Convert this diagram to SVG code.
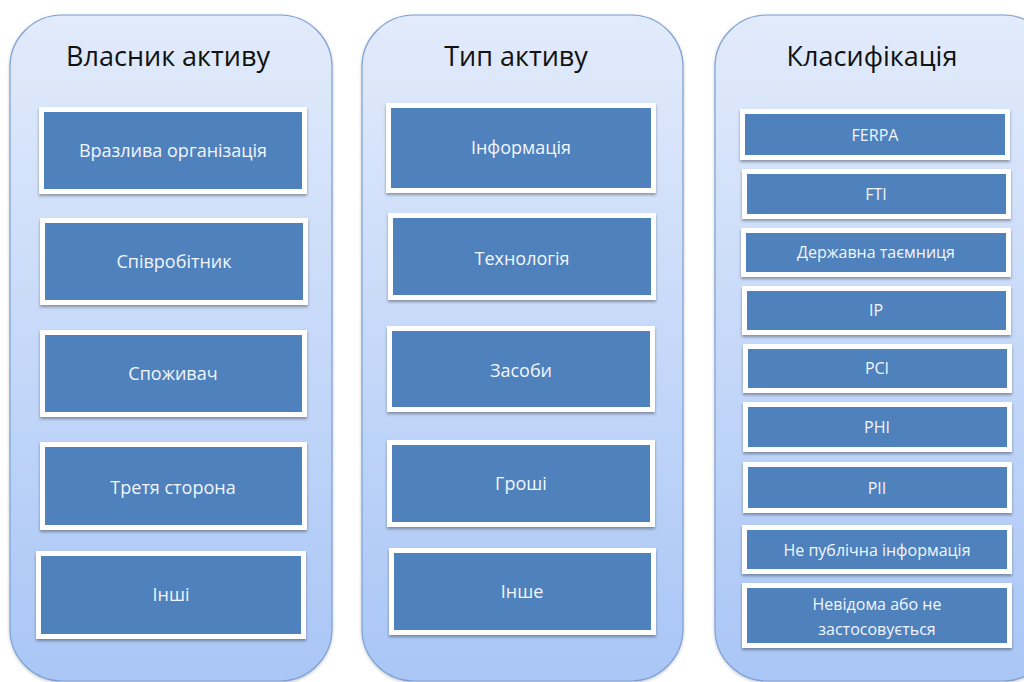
<svg xmlns="http://www.w3.org/2000/svg" width="1024" height="682" viewBox="0 0 1024 682">
  <defs>
    <linearGradient id="panelFill" x1="0" y1="0" x2="0" y2="1">
      <stop offset="0" stop-color="#e2ebfb"/>
      <stop offset="1" stop-color="#a9c6f6"/>
    </linearGradient>
    <filter id="boxShadow" x="-5%" y="-10%" width="110%" height="130%">
      <feDropShadow dx="0" dy="2" stdDeviation="1.5" flood-color="#000" flood-opacity="0.35"/>
    </filter>
    <filter id="panelShadow" x="-5%" y="-5%" width="110%" height="110%">
      <feDropShadow dx="0" dy="1" stdDeviation="1.5" flood-color="#000" flood-opacity="0.25"/>
    </filter>
  </defs>
  <style>
    .panel { fill: url(#panelFill); stroke: #7ba0d4; stroke-width: 1.2; filter: url(#panelShadow); }
    .box { fill: #4f81bd; stroke: #ffffff; stroke-width: 5; filter: url(#boxShadow); }
    .title { font-family: "Open Sans", "Liberation Sans", sans-serif; font-size: 27px; fill: #111; text-anchor: middle; }
    .lbl { font-family: "Open Sans", "Liberation Sans", sans-serif; font-size: 18px; fill: #f2f6fc; text-anchor: middle; }
    .lbl2 { font-family: "Open Sans", "Liberation Sans", sans-serif; font-size: 16px; fill: #f2f6fc; text-anchor: middle; }
  </style>

  <rect width="1024" height="682" fill="#ffffff"/>

  <!-- Column: owner -->
  <g id="owner">
    <rect class="panel" x="10" y="15" width="322" height="666" rx="52"/>
    <text class="title" x="168" y="66">Власник активу</text>
    <g id="owner-1"><rect class="box" x="41.5" y="109.5" width="263" height="82"/><text class="lbl" x="173" y="157">Вразлива організація</text></g>
    <g id="owner-2"><rect class="box" x="42.5" y="220.5" width="263" height="82"/><text class="lbl" x="174" y="268">Співробітник</text></g>
    <g id="owner-3"><rect class="box" x="42.5" y="332.5" width="262" height="82"/><text class="lbl" x="173" y="380">Споживач</text></g>
    <g id="owner-4"><rect class="box" x="42.5" y="444.5" width="262" height="83"/><text class="lbl" x="173" y="494">Третя сторона</text></g>
    <g id="owner-5"><rect class="box" x="38.5" y="553.5" width="265" height="83"/><text class="lbl" x="171" y="601">Інші</text></g>
  </g>

  <!-- Column: asset type -->
  <g id="type">
    <rect class="panel" x="362" y="15" width="321" height="666" rx="52"/>
    <text class="title" x="516" y="66">Тип активу</text>
    <g id="type-1"><rect class="box" x="388.5" y="105.5" width="265" height="85"/><text class="lbl" x="521" y="154">Інформація</text></g>
    <g id="type-2"><rect class="box" x="390.5" y="215.5" width="263" height="82"/><text class="lbl" x="522" y="265">Технологія</text></g>
    <g id="type-3"><rect class="box" x="389.5" y="328.5" width="263" height="81"/><text class="lbl" x="521" y="377">Засоби</text></g>
    <g id="type-4"><rect class="box" x="389.5" y="442.5" width="263" height="82"/><text class="lbl" x="521" y="490">Гроші</text></g>
    <g id="type-5"><rect class="box" x="391.5" y="550.5" width="262" height="82"/><text class="lbl" x="522" y="598">Інше</text></g>
  </g>

  <!-- Column: classification -->
  <g id="class">
    <rect class="panel" x="715" y="15" width="340" height="666" rx="52"/>
    <text class="title" x="872" y="66">Класифікація</text>
    <g id="class-1"><rect class="box" x="742.5" y="111.5" width="265" height="46"/><text class="lbl2" x="875" y="141">FERPA</text></g>
    <g id="class-2"><rect class="box" x="744.5" y="171.5" width="264" height="45"/><text class="lbl2" x="876" y="200">FTI</text></g>
    <g id="class-3"><rect class="box" x="743.5" y="230.5" width="265" height="44"/><text class="lbl2" x="876" y="258">Державна таємниця</text></g>
    <g id="class-4"><rect class="box" x="744.5" y="288.5" width="264" height="44"/><text class="lbl2" x="876" y="316">IP</text></g>
    <g id="class-5"><rect class="box" x="745.5" y="346.5" width="264" height="44"/><text class="lbl2" x="877" y="374">PCI</text></g>
    <g id="class-6"><rect class="box" x="745.5" y="404.5" width="264" height="45"/><text class="lbl2" x="877" y="433">PHI</text></g>
    <g id="class-7"><rect class="box" x="745.5" y="464.5" width="264" height="46"/><text class="lbl2" x="877" y="494">PII</text></g>
    <g id="class-8"><rect class="box" x="744.5" y="527.5" width="265" height="44"/><text class="lbl2" x="877" y="556">Не публічна інформація</text></g>
    <g id="class-9"><rect class="box" x="744.5" y="585.5" width="265" height="60"/><text class="lbl2" x="877" y="610">Невідома або не</text><text class="lbl2" x="877" y="635">застосовується</text></g>
  </g>
</svg>
